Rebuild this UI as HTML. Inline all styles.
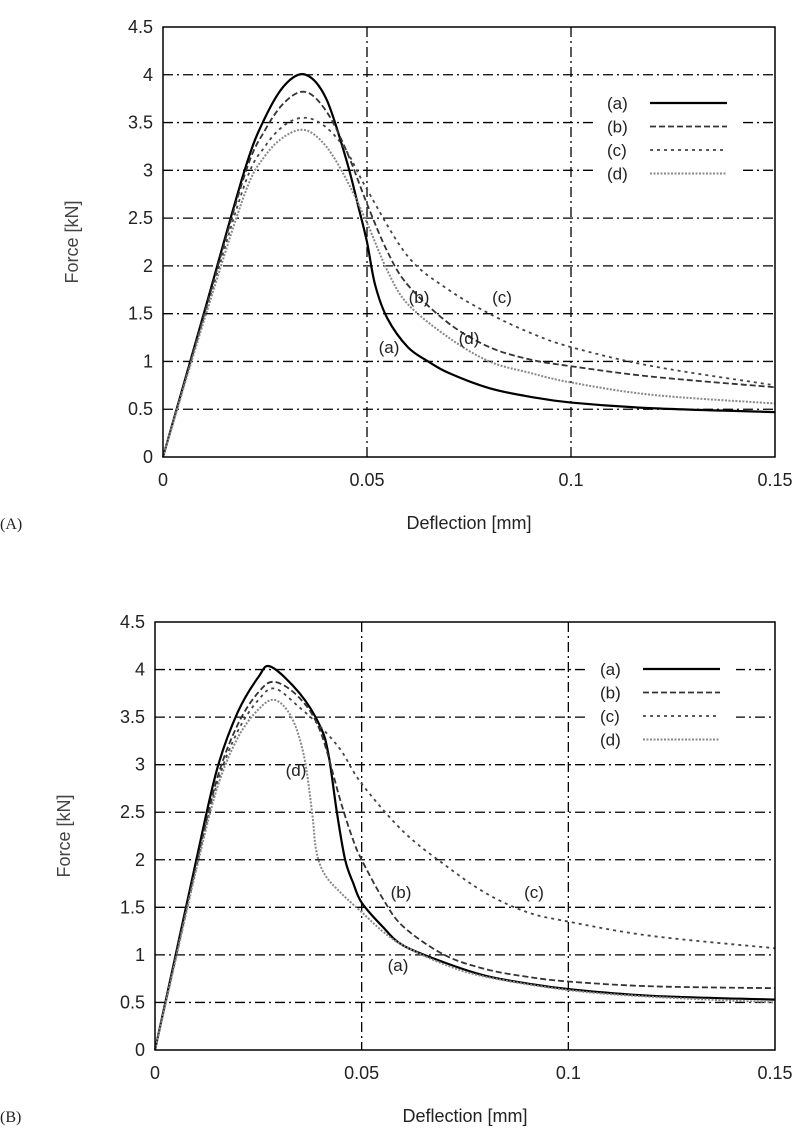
<!DOCTYPE html>
<html><head><meta charset="utf-8"><style>
body{margin:0;background:#fff;}
svg{display:block;font-family:"Liberation Sans",sans-serif;}
</style></head><body>
<svg id="s" width="809" height="1147" viewBox="0 0 809 1147"></svg>
<script>
const NS="http://www.w3.org/2000/svg";const S=document.getElementById('s');
function el(t,a,txt){const e=document.createElementNS(NS,t);for(const k in a)e.setAttribute(k,a[k]);if(txt!==undefined)e.textContent=txt;S.appendChild(e);return e;}
function panel(P){
 const X=x=>P.l+(P.r-P.l)*x/0.15, Y=y=>P.b-(P.b-P.t)*y/4.5;
 for(let i=1;i<9;i++){el('line',{x1:P.l,x2:P.r,y1:Y(i*0.5),y2:Y(i*0.5),stroke:'#000','stroke-width':1.3,'stroke-dasharray':'10,4,2,4'});}
 [0.05,0.1].forEach(v=>el('line',{x1:X(v),x2:X(v),y1:P.t,y2:P.b,stroke:'#000','stroke-width':1.3,'stroke-dasharray':'10,4,2,4'}));
 el('rect',{x:P.lx-14,y:P.ly-16,width:150,height:96,fill:'#fff'});
 for(let i=0;i<=9;i++){el('text',{x:P.l-10,y:Y(i*0.5)+6,'text-anchor':'end','font-size':18,fill:'#222'},(i*0.5).toString());}
 [0,0.05,0.1,0.15].forEach(v=>el('text',{x:X(v),y:P.b+29,'text-anchor':'middle','font-size':18,fill:'#222'},v.toString()));
 el('text',{x:0,y:0,transform:`translate(${P.l-85},${(P.t+P.b)/2}) rotate(-90)`,'text-anchor':'middle','font-size':18,fill:'#444'},'Force [kN]');
 el('text',{x:(P.l+P.r)/2,y:P.b+72,'text-anchor':'middle','font-size':18,fill:'#222'},'Deflection [mm]');
 el('text',{x:0,y:P.b+72,'font-size':16,fill:'#222','font-family':'Liberation Serif,serif'},P.name);
 const styles=[{stroke:'#000','stroke-width':2.2},{stroke:'#333','stroke-width':1.8,'stroke-dasharray':'6,3'},{stroke:'#444','stroke-width':1.8,'stroke-dasharray':'3,4'},{stroke:'#888','stroke-width':2,'stroke-dasharray':'2,1.5'}];
 P.curves.forEach((pts,ci)=>{
  const p=pts.map(q=>[X(q[0]),Y(q[1])]);
  let d='M'+p[0][0]+','+p[0][1];
  for(let i=0;i<p.length-1;i++){const p0=p[Math.max(0,i-1)],p1=p[i],p2=p[i+1],p3=p[Math.min(p.length-1,i+2)];
   d+=` C${p1[0]+(p2[0]-p0[0])/6},${p1[1]+(p2[1]-p0[1])/6} ${p2[0]-(p3[0]-p1[0])/6},${p2[1]-(p3[1]-p1[1])/6} ${p2[0]},${p2[1]}`;}
  el('path',Object.assign({d:d,fill:'none'},styles[ci]));
 });
 ['(a)','(b)','(c)','(d)'].forEach((t,i)=>{const y=P.ly+i*23.5;
  el('text',{x:P.lx,y:y+6,'font-size':17,fill:'#222'},t);
  el('line',Object.assign({x1:P.lx+43,x2:P.lx+120,y1:y,y2:y},styles[i]));});
 el('rect',{x:P.l,y:P.t,width:P.r-P.l,height:P.b-P.t,fill:'none',stroke:'#000','stroke-width':1.5});
 P.lab.forEach(q=>el('text',{x:q[1],y:q[2],'font-size':17,fill:'#222','text-anchor':'middle'},q[0]));
}
panel({l:163,r:775,t:27,b:457,lx:607,ly:103,name:'(A)',
 lab:[['(b)',419,303],['(c)',502,303],['(d)',469,344],['(a)',389,353]],
 curves:[
 [[0,0],[0.01,1.5],[0.02,3.0],[0.025,3.55],[0.03,3.9],[0.035,4.0],[0.04,3.75],[0.045,3.1],[0.048,2.6],[0.05,2.25],[0.052,1.8],[0.055,1.45],[0.06,1.15],[0.065,1.0],[0.07,0.88],[0.08,0.72],[0.09,0.63],[0.1,0.57],[0.12,0.51],[0.15,0.47]],
 [[0,0],[0.01,1.48],[0.02,2.95],[0.025,3.42],[0.03,3.72],[0.035,3.82],[0.04,3.62],[0.045,3.2],[0.05,2.65],[0.055,2.15],[0.06,1.8],[0.07,1.4],[0.08,1.15],[0.09,1.02],[0.1,0.95],[0.12,0.84],[0.15,0.73]],
 [[0,0],[0.01,1.45],[0.02,2.85],[0.025,3.25],[0.03,3.48],[0.035,3.55],[0.04,3.45],[0.045,3.2],[0.05,2.8],[0.06,2.1],[0.07,1.75],[0.08,1.5],[0.09,1.3],[0.1,1.15],[0.12,0.95],[0.15,0.75]],
 [[0,0],[0.01,1.42],[0.02,2.75],[0.025,3.15],[0.03,3.36],[0.035,3.42],[0.04,3.25],[0.045,2.9],[0.05,2.45],[0.055,1.95],[0.06,1.6],[0.07,1.25],[0.08,1.0],[0.09,0.88],[0.1,0.78],[0.12,0.65],[0.15,0.56]]]});
panel({l:155,r:775,t:622,b:1050,lx:600,ly:669,name:'(B)',
 lab:[['(d)',296,776],['(b)',401,898],['(c)',534,898],['(a)',398,971]],
 curves:[
 [[0,0],[0.005,1],[0.01,2],[0.015,2.95],[0.02,3.55],[0.025,3.92],[0.028,4.03],[0.035,3.75],[0.04,3.4],[0.042,3.1],[0.044,2.5],[0.046,2.0],[0.048,1.75],[0.05,1.55],[0.055,1.3],[0.06,1.1],[0.07,0.92],[0.08,0.78],[0.09,0.7],[0.1,0.64],[0.12,0.57],[0.15,0.53]],
 [[0,0],[0.005,0.98],[0.01,1.95],[0.015,2.85],[0.02,3.42],[0.025,3.76],[0.029,3.87],[0.035,3.7],[0.04,3.35],[0.045,2.6],[0.048,2.2],[0.05,2.0],[0.055,1.6],[0.06,1.3],[0.07,1.0],[0.08,0.85],[0.09,0.77],[0.1,0.72],[0.12,0.67],[0.15,0.65]],
 [[0,0],[0.005,0.96],[0.01,1.92],[0.015,2.8],[0.02,3.35],[0.025,3.68],[0.029,3.8],[0.035,3.6],[0.04,3.4],[0.045,3.15],[0.05,2.8],[0.06,2.3],[0.07,1.95],[0.08,1.65],[0.09,1.45],[0.1,1.35],[0.12,1.2],[0.15,1.07]],
 [[0,0],[0.005,0.95],[0.01,1.9],[0.015,2.75],[0.02,3.28],[0.025,3.58],[0.029,3.68],[0.033,3.5],[0.036,3.1],[0.038,2.5],[0.039,2.1],[0.041,1.85],[0.045,1.65],[0.05,1.45],[0.055,1.25],[0.06,1.1],[0.07,0.9],[0.08,0.77],[0.1,0.63],[0.12,0.56],[0.15,0.5]]]});
</script>
</body></html>
